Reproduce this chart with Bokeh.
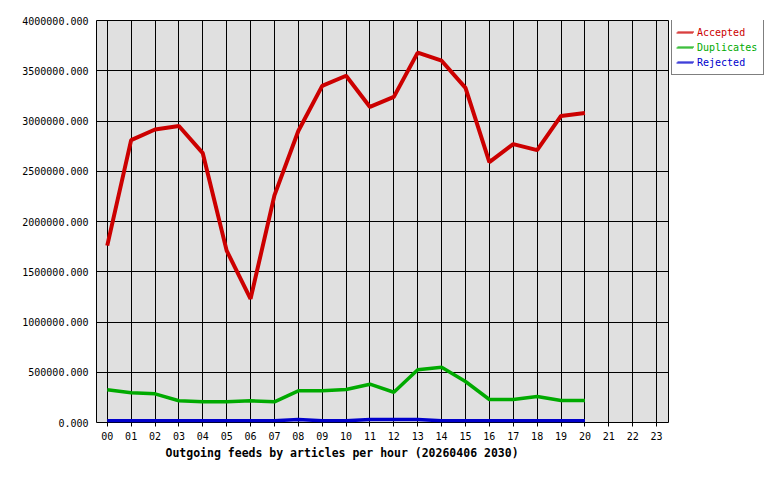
from bokeh.plotting import figure
from bokeh.layouts import row
from bokeh.models import (Range1d, FixedTicker, PrintfTickFormatter, Legend,
                          LegendItem, Title)
from bokeh.embed import file_html
from bokeh.resources import INLINE

hours = [0, 1, 2, 3, 4, 5, 6, 7, 8, 9, 10, 11, 12, 13, 14, 15, 16, 17, 18, 19, 20]
tick_labels = ["00", "01", "02", "03", "04", "05", "06", "07", "08", "09", "10", "11",
               "12", "13", "14", "15", "16", "17", "18", "19", "20", "21", "22", "23"]
accepted = [1760000, 2810000, 2915000, 2950000, 2680000, 1710000, 1230000, 2260000,
            2900000, 3350000, 3450000, 3140000, 3240000, 3680000, 3600000, 3330000,
            2590000, 2770000, 2710000, 3050000, 3080000]
duplicates = [325000, 295000, 285000, 216000, 206000, 206000, 216000, 206000,
              315000, 315000, 328000, 381000, 301000, 524000, 550000, 408000,
              229000, 229000, 259000, 219000, 219000]
rejected = [17000, 17000, 17000, 17000, 17000, 17000, 17000, 17000,
            30000, 17000, 17000, 30000, 30000, 30000, 17000, 17000,
            17000, 17000, 17000, 17000, 17000]
series_names = ["Accepted", "Duplicates", "Rejected"]
title_text = "Outgoing feeds by articles per hour (20260406 2030)"

colors = ["#cc0000", "#00aa00", "#0000cc"]
MONO = "DejaVu Sans Mono"

p = figure(width=670, height=464, output_backend="svg", toolbar_location=None,
           x_range=Range1d(-0.45, 23.5), y_range=Range1d(0, 4000000),
           min_border_left=96, min_border_right=2, min_border_top=20,
           min_border_bottom=42)

p.background_fill_color = "#e0e0e0"
p.border_fill_color = "white"
p.outline_line_color = "black"
p.outline_line_width = 1

# axes
p.xaxis.ticker = FixedTicker(ticks=list(range(24)))
p.xaxis.major_label_overrides = {i: t for i, t in enumerate(tick_labels)}
p.yaxis.ticker = FixedTicker(ticks=[0, 500000, 1000000, 1500000, 2000000, 2500000,
                                    3000000, 3500000, 4000000])
p.yaxis.formatter = PrintfTickFormatter(format="%.3f")
for ax in (p.xaxis, p.yaxis):
    ax.axis_line_color = None
    ax.minor_tick_line_color = None
    ax.major_label_text_font = MONO
    ax.major_label_text_font_size = "10px"
    ax.major_label_text_color = "black"
    ax.major_tick_line_color = "black"
p.xaxis.major_tick_out = 4
p.xaxis.major_tick_in = 0
p.xaxis.major_label_standoff = 5
p.yaxis.major_tick_out = 0
p.yaxis.major_tick_in = 0
p.yaxis.major_label_standoff = 8

p.xgrid.grid_line_color = "black"
p.ygrid.grid_line_color = "black"
p.xgrid.grid_line_alpha = 1
p.ygrid.grid_line_alpha = 1

# data lines
p.line(hours, accepted, line_color=colors[0], line_width=4)
p.line(hours, duplicates, line_color=colors[1], line_width=3.5)
p.line(hours, rejected, line_color=colors[2], line_width=3.5)

t = Title(text=title_text, align="left", offset=69, text_font=MONO,
          text_font_size="11.5px", text_font_style="bold", text_color="black",
          standoff=2)
p.add_layout(t, "below")

# legend panel as a separate small figure (its frame is aligned with p's frame)
p2 = figure(width=94, height=464, output_backend="svg", toolbar_location=None,
            x_range=Range1d(0, 1), y_range=Range1d(0, 1),
            x_axis_location=None, y_axis_location=None,
            min_border_left=0, min_border_right=0, min_border_top=20,
            min_border_bottom=42)
p2.outline_line_color = None
p2.background_fill_color = "white"
p2.border_fill_color = "white"
p2.xgrid.visible = False
p2.ygrid.visible = False

# legend sample renderers: points lie outside the legend panel's ranges
items = []
for name, c in zip(series_names, colors):
    ln = p2.line([5, 6], [5, 6], line_color=c, line_width=1)
    items.append((name, c, [ln]))

common = dict(label_text_font=MONO, label_text_font_size="10px", glyph_width=17,
              glyph_height=15, label_height=15, label_standoff=4, spacing=0,
              padding=5, margin=0)
FH = 402
main_h = 2 * 5 + 3 * 15
main = Legend(items=[LegendItem(label=n, renderers=r) for n, c, r in items],
              location=(1, FH - main_h), border_line_color="black",
              border_line_width=1, background_fill_color="white",
              background_fill_alpha=1, label_text_alpha=0, **common)
p2.add_layout(main, "center")
for i, (n, c, r) in enumerate(items):
    lg = Legend(items=[LegendItem(label=n, renderers=r)],
                location=(1, FH - 15 * i - 25), border_line_alpha=0,
                background_fill_alpha=0, label_text_color=c, **common)
    p2.add_layout(lg, "center")

layout = row(p, p2)
open("out.html", "w").write(file_html(layout, INLINE))
